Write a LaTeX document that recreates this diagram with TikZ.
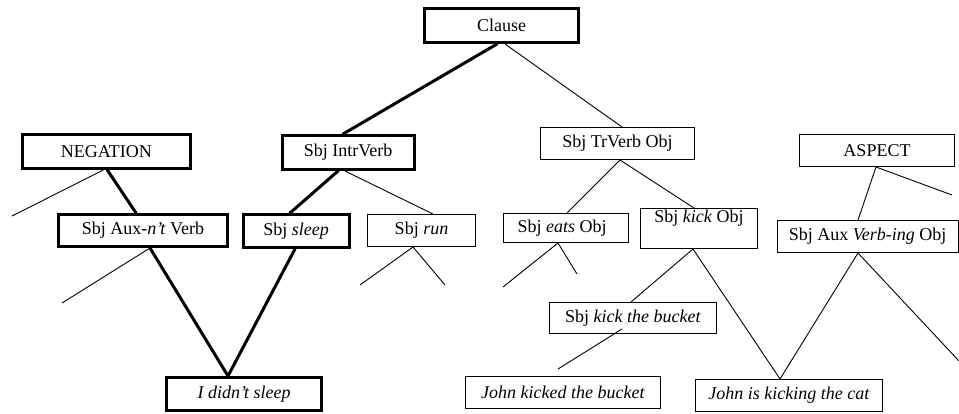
\documentclass[tikz,border=0pt]{standalone}
\usepackage{fontspec}
\setmainfont{Liberation Serif}
\begin{document}
\begin{tikzpicture}[x=1pt,y=-1pt,
  box/.style={draw, line width=1pt, inner sep=0pt, align=center,
    font=\fontsize{18}{20}\selectfont},
  thickbox/.style={box, line width=3pt},
  bsize/.style 2 args={minimum width=#1pt, minimum height=#2pt},
  thin/.style={line width=0.9pt},
  thick/.style={line width=3pt, line cap=round}]
\useasboundingbox (0,0) rectangle (959,413);

% nodes
\node[thickbox, bsize={154}{34}] (clause) at (501.5,25.5) {Clause};
\node[thickbox, bsize={168}{34}] (neg) at (106.3,151.5) {NEGATION};
\node[thickbox, bsize={132}{34}] (intr) at (348,152.5) {Sbj IntrVerb};
\node[box, bsize={154}{32}] (tr) at (617.5,143.5) {Sbj TrVerb Obj};
\node[box, bsize={155}{32}] (aspect) at (877,150.5) {ASPECT};
\node[thickbox, bsize={169}{32}] (aux) at (143,230.5) {Sbj Aux-\textit{n’t} Verb};
\node[thickbox, bsize={106}{33}] (sleep) at (296,231) {Sbj \textit{sleep}};
\node[box, bsize={108}{32}] (run) at (421.5,230.5) {Sbj \textit{run}};
\node[box, bsize={125}{29}] (eats) at (566,228) {Sbj \textit{eats} Obj\hspace*{8pt}};
\node[box, bsize={117}{40}] (kick) at (699,228.5) {Sbj \textit{kick} Obj\\[4pt]};
\node[box, bsize={181}{32}] (ving) at (867.5,236.5) {Sbj Aux \textit{Verb-ing} Obj};
\node[box, bsize={167}{31}] (bucket) at (633,318) {Sbj \textit{kick the bucket}};
\node[box, bsize={195}{32}] (jkb) at (563,392.5) {\textit{John kicked the bucket}};
\node[box, bsize={187}{32}] (jkc) at (789,395.5) {\textit{John is kicking the cat}};
\node[thickbox, bsize={155}{33}] (didnt) at (244,394) {\textit{I didn’t sleep}};

% free ends
\coordinate (n1) at (12,216);
\coordinate (a1) at (62,303);
\coordinate (r1) at (360,285);
\coordinate (r2) at (445,285);
\coordinate (e1) at (503,287);
\coordinate (e2) at (577,274);
\coordinate (b1) at (558,369);
\coordinate (s1) at (952,195);
\coordinate (v1) at (959,361);

% connectors
\draw[thick] ([xshift=-4.5pt]clause.south) -- ([xshift=-5pt]intr.north);
\draw[thin]  ([xshift=3.5pt]clause.south) -- ([xshift=4.5pt]tr.north);

\draw[thick] ([xshift=1pt]neg.south) -- ([xshift=-7pt]aux.north);
\draw[thin]  ([xshift=-3pt]neg.south) -- (n1);

\draw[thick] ([xshift=-10pt]intr.south) -- ([xshift=-6pt]sleep.north);
\draw[thin]  ([xshift=-3pt]intr.south) -- ([xshift=11.5pt]run.north);

\draw[thin]  ([xshift=7pt]aux.south) -- (a1);
\draw[thick] ([xshift=7pt]aux.south) -- ([xshift=-16pt]didnt.north);
\draw[thick] ([xshift=-1pt]sleep.south) -- ([xshift=-16pt]didnt.north);

\draw[thin]  (r1) -- ([xshift=-8.5pt]run.south) -- (r2);

\draw[thin]  ([xshift=2.5pt]tr.south) -- ([xshift=1pt]eats.north);
\draw[thin]  ([xshift=2.5pt]tr.south) -- ([xshift=-5pt]kick.north);

\draw[thin]  (e1) -- ([xshift=-8pt]eats.south) -- (e2);

\draw[thin]  ([xshift=-6pt]kick.south) -- ([xshift=-2pt]bucket.north);
\draw[thin]  ([xshift=-6pt]kick.south) -- ([xshift=-9pt]jkc.north);

\draw[thin]  ([xshift=-11pt,yshift=-11pt]bucket.center) -- (b1);

\draw[thin]  ([xshift=-1pt]aspect.south) -- ([xshift=-9.5pt]ving.north);
\draw[thin]  ([xshift=-1pt]aspect.south) -- (s1);

\draw[thin]  ([xshift=-9.5pt]ving.south) -- ([xshift=-9pt]jkc.north);
\draw[thin]  ([xshift=-9.5pt]ving.south) -- (v1);
\end{tikzpicture}
\end{document}
